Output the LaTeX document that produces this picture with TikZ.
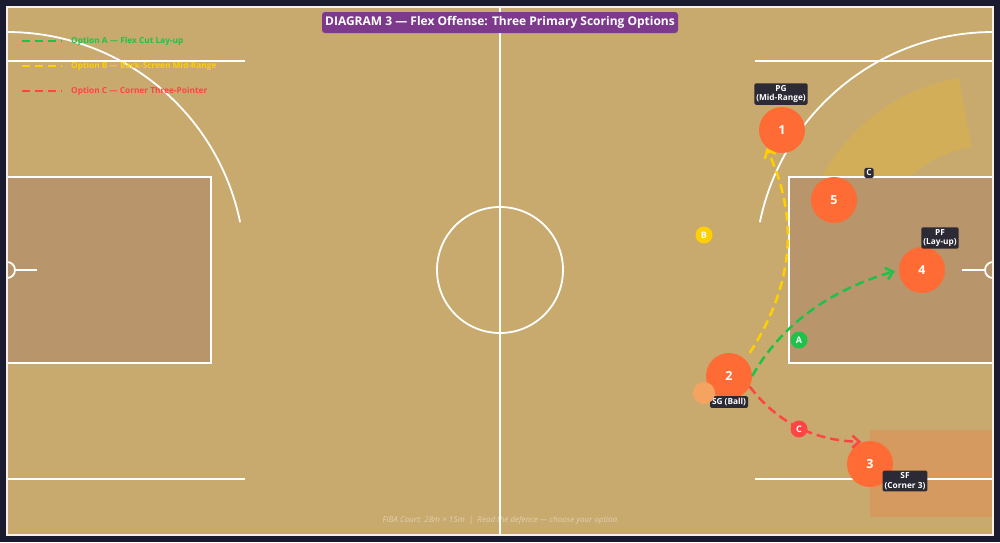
\documentclass[tikz,border=0pt]{standalone}
\usepackage{fontspec}
\setmainfont{Open Sans}
\usetikzlibrary{arrows.meta}
\definecolor{bgdark}{HTML}{1A1B2E}
\definecolor{court}{HTML}{C8AA6E}
\definecolor{paint}{HTML}{B8956B}
\definecolor{player}{HTML}{FF6B35}
\definecolor{ballc}{HTML}{F4A460}
\definecolor{tagdark}{HTML}{2B2A35}
\definecolor{titlepurple}{HTML}{7D3A8C}
\definecolor{colA}{HTML}{1EC24A}
\definecolor{colB}{HTML}{FFD000}
\definecolor{colC}{HTML}{FF4444}

\begin{document}
\begin{tikzpicture}[x=1pt,y=-1pt,
  courtline/.style={white,line width=1.8pt},
  plyr/.style={circle,fill=player,minimum size=46pt,inner sep=0pt,text=white,font=\bfseries\fontsize{12.5}{12}\selectfont},
  tag/.style={fill=tagdark,rounded corners=1.5pt,text=white,align=center,inner sep=2pt,font=\bfseries\fontsize{8.3}{9.5}\selectfont},
  optmark/.style={circle,minimum size=17pt,inner sep=0pt,text=white,font=\bfseries\fontsize{9}{9}\selectfont},
  run/.style={line width=2.5pt,dash pattern=on 9pt off 5pt,-{Straight Barb[length=7pt,width=12pt]}},
  legline/.style={line width=2.5pt,dash pattern=on 8pt off 5pt},
  legtext/.style={anchor=west,inner sep=0pt,font=\bfseries\fontsize{8.3}{9}\selectfont}]

\fill[bgdark] (0,0) rectangle (1000,542);
\useasboundingbox (0,0) rectangle (1000,542);
\fill[court] (7,7) rectangle (993,535);

\fill[player,opacity=.25] (870,430) rectangle (993,517);
\fill[colB!80!orange,opacity=.2] ([shift={(100:195pt)}]993,270) arc[start angle=100,end angle=180,radius=195pt]
  -- ([shift={(180:125pt)}]993,270) arc[start angle=180,end angle=100,radius=125pt] -- cycle;

\fill[paint] (7,177) rectangle (211,363);
\fill[paint] (789,177) rectangle (993,363);
\draw[courtline] (7,177) rectangle (211,363);
\draw[courtline] (789,177) rectangle (993,363);

\draw[courtline] (500,7) -- (500,535);
\draw[courtline] (500,270) circle[radius=63pt];
\draw[courtline] (7,61) -- (245,61);
\draw[courtline] (7,479) -- (245,479);
\draw[courtline] (755,61) -- (993,61);
\draw[courtline] (755,479) -- (993,479);
\draw[courtline] ([shift={(90:238pt)}]7,270) arc[start angle=90,end angle=11.6,radius=238pt];
\draw[courtline] ([shift={(90:238pt)}]993,270) arc[start angle=90,end angle=168.4,radius=238pt];
\draw[courtline] ([shift={(-90:8pt)}]7,270) arc[start angle=-90,end angle=90,radius=8pt];
\draw[courtline] (15,270) -- (37,270);
\draw[courtline] ([shift={(90:8pt)}]993,270) arc[start angle=90,end angle=270,radius=8pt];
\draw[courtline] (962,270) -- (985,270);
\draw[white!85!court,line width=2pt] (7,7) rectangle (993,535);

\node[plyr] (p1) at (782,130) {1};
\node[plyr] (p2) at (729,376) {2};
\node[plyr] (p3) at (870,464) {3};
\node[plyr] (p4) at (922,270) {4};
\node[plyr] (p5) at (834,200) {5};

\node[tag] (t1) at (781,94) {PG\\(Mid-Range)};
\node[tag] (t5) at (869,173) {C};
\node[tag] (t4) at (940,238) {PF\\(Lay-up)};
\node[tag] (t2) at (729,402) {SG (Ball)};
\node[tag] (t3) at (905,481) {SF\\(Corner 3)};
\node[circle,fill=ballc,minimum size=22pt,inner sep=0pt] (ball) at (704,393) {};

\draw[run,colA,shorten >=4pt] (p2.east) .. controls (780.7,325.3) and (829.7,290) .. (p4.west);
\draw[run,colB,shorten <=8pt,shorten >=2pt] (p2.45) .. controls (794.7,283.3) and (798.7,216.7) .. (p1.south west);
\draw[run,colC,shorten >=2pt] (p2.-27) .. controls (776.5,422.1) and (814.3,440.7) .. (p3.107);

\node[optmark,fill=colA] (ma) at (799,340) {A};
\node[optmark,fill=colB] (mb) at (704,235) {B};
\node[optmark,fill=colC] (mc) at (799,429) {C};

\coordinate (legA) at (22,41);
\coordinate (legB) at (22,66);
\coordinate (legC) at (22,91);
\draw[legline,colA] (legA) -- ++(40,0);
\draw[legline,colB] (legB) -- ++(40,0);
\draw[legline,colC] (legC) -- ++(40,0);
\node[legtext,text=colA] (ta) at (71,41) {Option A — Flex Cut Lay-up};
\node[legtext,text=colB] (tb) at (71,66) {Option B — Back-Screen Mid-Range};
\node[legtext,text=colC] (tc) at (71,91) {Option C — Corner Three-Pointer};

\node[fill=titlepurple,rounded corners=3pt,text=white,font=\bfseries\fontsize{12}{12}\selectfont,
  minimum width=356pt,minimum height=21pt,inner sep=0pt] (title) at (500,22.5)
  {DIAGRAM 3 — Flex Offense: Three Primary Scoring Options};
\node[text=white,opacity=.45,font=\itshape\fontsize{8}{8}\selectfont] (foot) at (500,520)
  {FIBA Court: 28m × 15m \ | \ Read the defence — choose your option};
\end{tikzpicture}
\end{document}
